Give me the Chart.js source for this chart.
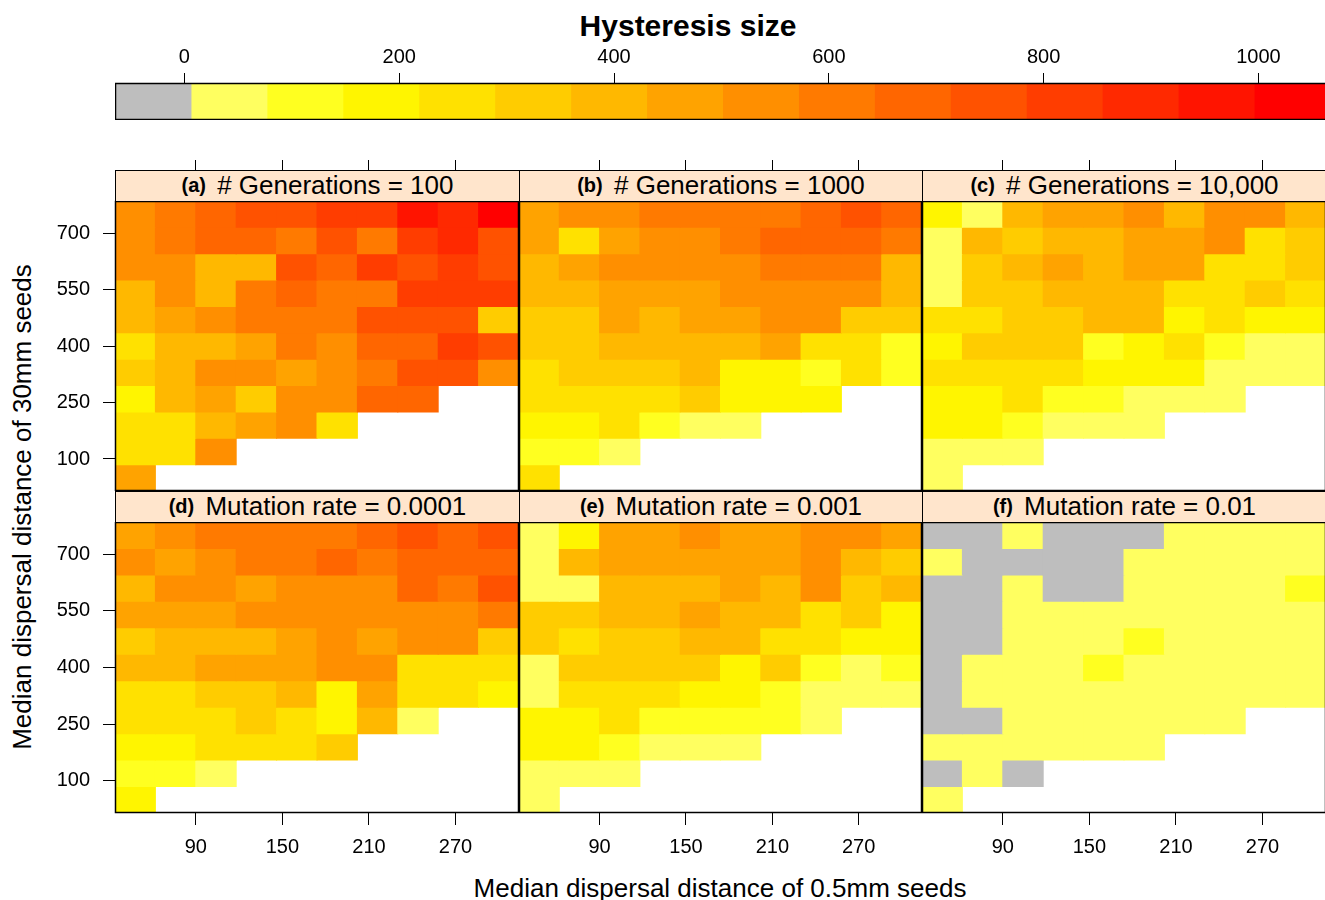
<!DOCTYPE html>
<html lang="en">
<head>
<meta charset="utf-8">
<title>Hysteresis size</title>
<script src="https://cdn.jsdelivr.net/npm/chart.js@4.4.1/dist/chart.umd.min.js"></script>
<style>
  html, body { margin: 0; padding: 0; background: #fff; }
  body { position: relative; width: 1325px; height: 900px; overflow: hidden;
         font-family: "Liberation Sans", Arial, sans-serif; color: #000; }
  canvas { position: absolute; }
  .strip { position: absolute; box-sizing: border-box; background: #ffe5cc;
           border: 1.5px solid #000; text-align: center; font-size: 26px;
           line-height: 29px; white-space: nowrap; }
  .strip b { font-size: 20px; vertical-align: 2px; margin-right: 4px; }
  #title { position: absolute; left: 438px; width: 500px; top: 9px; text-align: center;
           font-weight: bold; font-size: 30px; line-height: 34px; }
  #xtitle { position: absolute; left: 320px; width: 800px; top: 873px; text-align: center;
            font-size: 26px; line-height: 30px; }
  #ytitle { position: absolute; left: -278px; top: 492px; width: 600px; text-align: center;
            font-size: 26px; line-height: 30px; transform: rotate(-90deg); }
</style>
</head>
<body>
<div id="title">Hysteresis size</div>
<div id="xtitle">Median dispersal distance of 0.5mm seeds</div>
<div id="ytitle">Median dispersal distance of 30mm seeds</div>
<script>
// cell centres
const seedSmall = [48, 76, 104, 132, 160, 188, 216, 244, 272, 300];
const seedLarge = [750, 680, 610, 540, 470, 400, 330, 260, 190, 120, 50]; // top row first
const xTicks = [90, 150, 210, 270];
const yTicks = [100, 250, 400, 550, 700];

// colour key
const keyTicks = [0, 200, 400, 600, 800, 1000];
const keyBreaks = [-64.6, 6.1, 76.8, 147.5, 218.2, 288.9, 359.6, 430.3, 501.0,
                   571.7, 642.4, 713.1, 783.8, 854.5, 925.2, 995.9, 1066.6];
const keyColours = ['#bebebe', '#ffff60', '#ffff20', '#fff500', '#ffe100', '#ffcc00',
                    '#ffb800', '#ffa300', '#ff8f00', '#ff7a00', '#ff6600', '#ff5200',
                    '#ff3d00', '#ff2900', '#ff1400', '#ff0000'];

// hysteresis size, rows top (750) to bottom (50), columns left to right
const gen100 = [
  [535, 605, 680, 750, 750, 820, 820, 960, 890, 1030],
  [535, 605, 680, 680, 605, 750, 605, 820, 890, 750],
  [535, 535, 395, 395, 750, 680, 820, 750, 820, 750],
  [395, 535, 395, 605, 680, 605, 605, 820, 820, 820],
  [395, 465, 535, 605, 605, 605, 750, 750, 750, 320],
  [250, 395, 395, 465, 605, 535, 680, 680, 820, 750],
  [320, 395, 535, 535, 465, 535, 605, 750, 750, 535],
  [180, 395, 465, 320, 535, 535, 680, 680, null, null],
  [250, 250, 395, 465, 535, 250, null, null, null, null],
  [250, 250, 535, null, null, null, null, null, null, null],
  [465, null, null, null, null, null, null, null, null, null]
];
const gen1000 = [
  [465, 535, 535, 605, 605, 605, 605, 680, 750, 680],
  [465, 250, 465, 535, 535, 605, 680, 680, 680, 605],
  [395, 465, 535, 535, 535, 535, 605, 605, 605, 395],
  [395, 395, 465, 465, 465, 535, 535, 535, 535, 395],
  [320, 320, 465, 395, 465, 465, 535, 535, 320, 320],
  [320, 320, 395, 395, 395, 395, 465, 250, 250, 110],
  [250, 320, 320, 320, 395, 180, 180, 110, 250, 110],
  [250, 250, 250, 250, 320, 180, 180, 180, null, null],
  [180, 180, 250, 110, 40, 40, null, null, null, null],
  [110, 110, 40, null, null, null, null, null, null, null],
  [250, null, null, null, null, null, null, null, null, null]
];
const gen10000 = [
  [180, 40, 395, 465, 465, 535, 395, 535, 535, 395],
  [40, 395, 320, 395, 395, 465, 465, 535, 250, 320],
  [40, 320, 395, 465, 395, 465, 465, 250, 250, 320],
  [40, 320, 320, 395, 395, 395, 250, 250, 320, 250],
  [250, 250, 320, 320, 395, 395, 180, 250, 180, 180],
  [180, 320, 320, 320, 110, 180, 250, 110, 40, 40],
  [250, 250, 250, 250, 180, 180, 180, 40, 40, 40],
  [180, 180, 250, 110, 110, 40, 40, 40, null, null],
  [180, 180, 110, 40, 40, 40, null, null, null, null],
  [40, 40, 40, null, null, null, null, null, null, null],
  [40, null, null, null, null, null, null, null, null, null]
];
const mut0001 = [
  [465, 535, 605, 605, 605, 605, 680, 750, 680, 750],
  [535, 465, 535, 605, 605, 680, 605, 680, 680, 680],
  [395, 535, 535, 465, 535, 535, 535, 680, 605, 750],
  [465, 465, 465, 535, 535, 535, 535, 535, 535, 605],
  [320, 395, 395, 395, 465, 535, 465, 535, 535, 320],
  [395, 395, 465, 465, 465, 535, 535, 250, 250, 250],
  [250, 250, 320, 320, 395, 180, 465, 250, 250, 180],
  [250, 250, 250, 320, 250, 180, 395, 40, null, null],
  [180, 180, 250, 250, 250, 320, null, null, null, null],
  [110, 110, 40, null, null, null, null, null, null, null],
  [180, null, null, null, null, null, null, null, null, null]
];
const mut001 = [
  [40, 180, 465, 465, 535, 465, 465, 535, 535, 465],
  [40, 395, 465, 465, 465, 465, 465, 535, 395, 320],
  [40, 40, 395, 395, 395, 465, 395, 535, 320, 395],
  [320, 320, 395, 395, 465, 395, 395, 250, 320, 180],
  [320, 250, 320, 320, 395, 395, 250, 250, 180, 180],
  [40, 320, 320, 320, 320, 180, 320, 110, 40, 110],
  [40, 250, 250, 250, 180, 180, 110, 40, 40, 40],
  [180, 180, 250, 110, 110, 110, 110, 40, null, null],
  [180, 180, 110, 40, 40, 40, null, null, null, null],
  [40, 40, 40, null, null, null, null, null, null, null],
  [40, null, null, null, null, null, null, null, null, null]
];
const mut01 = [
  [0, 0, 40, 0, 0, 0, 40, 40, 40, 40],
  [40, 0, 0, 0, 0, 40, 40, 40, 40, 40],
  [0, 0, 40, 0, 0, 40, 40, 40, 40, 110],
  [0, 0, 40, 40, 40, 40, 40, 40, 40, 40],
  [0, 0, 40, 40, 40, 110, 40, 40, 40, 40],
  [0, 40, 40, 40, 110, 40, 40, 40, 40, 40],
  [0, 40, 40, 40, 40, 40, 40, 40, 40, 40],
  [0, 0, 40, 40, 40, 40, 40, 40, null, null],
  [40, 40, 40, 40, 40, 40, null, null, null, null],
  [0, 40, 0, null, null, null, null, null, null, null],
  [40, null, null, null, null, null, null, null, null, null]
];

const panels = [
  { tag: '(a)', label: '# Generations = 100', values: gen100, col: 0, row: 0 },
  { tag: '(b)', label: '# Generations = 1000', values: gen1000, col: 1, row: 0 },
  { tag: '(c)', label: '# Generations = 10,000', values: gen10000, col: 2, row: 0 },
  { tag: '(d)', label: 'Mutation rate = 0.0001', values: mut0001, col: 0, row: 1 },
  { tag: '(e)', label: 'Mutation rate = 0.001', values: mut001, col: 1, row: 1 },
  { tag: '(f)', label: 'Mutation rate = 0.01', values: mut01, col: 2, row: 1 }
];

// page layout
const colLeft = [115, 519, 922];
const colWidth = [404, 403, 404];
const rowTop = [201, 522];
const plotHeight = [290, 291];
const stripH = 31;

Chart.defaults.font.family = '"Liberation Sans", Arial, sans-serif';
Chart.defaults.color = '#000';
Chart.defaults.animation = false;
Chart.defaults.plugins.legend.display = false;
Chart.defaults.plugins.tooltip.enabled = false;

const frame = {
  id: 'frame',
  afterDraw(chart) {
    const { ctx, chartArea: a } = chart;
    ctx.save();
    ctx.strokeStyle = '#000';
    ctx.lineWidth = 1.5;
    ctx.strokeRect(a.left + 0.5, a.top + 0.5, a.right - a.left - 1, a.bottom - a.top - 1);
    ctx.restore();
  }
};

function addCanvas(left, top, w, h) {
  const c = document.createElement('canvas');
  c.width = w;
  c.height = h;
  c.style.left = left + 'px';
  c.style.top = top + 'px';
  c.style.width = w + 'px';
  c.style.height = h + 'px';
  document.body.appendChild(c);
  return c;
}

function colourFor(v) {
  for (let k = 0; k < keyColours.length; k++) {
    if (v < keyBreaks[k + 1]) return keyColours[k];
  }
  return keyColours[keyColours.length - 1];
}

const fixedTicks = list => s => { s.ticks = list.map(v => ({ value: v })); };
const fixHeight = px => s => { if (s.options.display) s.height = px; };
// y axis: fixed width, and no extra chart padding for the end labels
const fixWidth = px => s => {
  if (s.options.display) s.width = px;
  s.paddingTop = 0;
  s.paddingBottom = 0;
};
const plain = v => String(v);

// colour key
new Chart(addCanvas(115, 30, 1215, 90), {
  type: 'bar',
  data: {
    labels: ['key'],
    datasets: keyColours.map((c, k) => ({
      data: [[keyBreaks[k], keyBreaks[k + 1]]],
      backgroundColor: c
    }))
  },
  options: {
    responsive: false,
    indexAxis: 'y',
    datasets: { bar: { grouped: false, barPercentage: 1, categoryPercentage: 1, borderWidth: 0, inflateAmount: 0.5 } },
    scales: {
      y: { display: false },
      x: {
        position: 'top',
        offset: false,
        min: keyBreaks[0],
        max: keyBreaks[keyBreaks.length - 1],
        afterBuildTicks: fixedTicks(keyTicks),
        afterFit: fixHeight(53),
        grid: { offset: false, drawOnChartArea: false, tickLength: 10, tickColor: '#000', lineWidth: 1 },
        border: { display: false },
        ticks: { padding: 4, font: { size: 20 }, callback: plain, maxRotation: 0, autoSkip: false }
      }
    }
  },
  plugins: [frame]
});

// panels
const halfRow = (seedLarge[0] - seedLarge[1]) / 2;
const halfCol = (seedSmall[1] - seedSmall[0]) / 2;
const xMin = seedSmall[0] - halfCol, xMax = seedSmall[seedSmall.length - 1] + halfCol;
const yMin = seedLarge[seedLarge.length - 1] - halfRow, yMax = seedLarge[0] + halfRow;

panels.forEach(p => {
  const left = p.col === 0 ? 115 : 0;
  const top = p.row === 0 ? stripH + 10 : 0;
  const bottom = p.row === 1 ? 50 : 0;
  const canvas = addCanvas(colLeft[p.col] - left, rowTop[p.row] - top,
                           colWidth[p.col] + left, plotHeight[p.row] + top + bottom);

  const datasets = p.values.map((row, r) => ({
    xAxisID: 'x',
    yAxisID: 'y',
    data: row.map(v => v === null ? null : [seedLarge[r] - halfRow, seedLarge[r] + halfRow]),
    backgroundColor: row.map(v => v === null ? 'rgba(0,0,0,0)' : colourFor(v))
  }));

  new Chart(canvas, {
    type: 'bar',
    data: { labels: seedSmall.map(String), datasets },
    options: {
      responsive: false,
      datasets: { bar: { grouped: false, barPercentage: 1, categoryPercentage: 1, borderWidth: 0, inflateAmount: 0.5 } },
      scales: {
        x: { type: 'category', display: false, offset: true },
        y: {
          type: 'linear', position: 'left', display: p.col === 0,
          min: yMin, max: yMax,
          afterBuildTicks: fixedTicks(yTicks),
          afterFit: fixWidth(115),
          grid: { drawOnChartArea: false, tickLength: 12, tickColor: '#000', lineWidth: 1 },
          border: { display: false },
          ticks: { padding: 13, font: { size: 20 }, callback: plain, autoSkip: false }
        },
        xb: {
          type: 'linear', position: 'bottom', display: p.row === 1, offset: false,
          min: xMin, max: xMax,
          afterBuildTicks: fixedTicks(xTicks),
          afterFit: fixHeight(50),
          grid: { offset: false, drawOnChartArea: false, tickLength: 12, tickColor: '#000', lineWidth: 1 },
          border: { display: false },
          ticks: { padding: 10, font: { size: 20 }, callback: plain, maxRotation: 0, autoSkip: false }
        },
        gap: {
          type: 'linear', position: 'top', display: p.row === 0, weight: 0, offset: false,
          afterFit: fixHeight(stripH),
          grid: { display: false, offset: false },
          border: { display: false },
          ticks: { display: false }
        },
        xt: {
          type: 'linear', position: 'top', display: p.row === 0, weight: 1, offset: false,
          min: xMin, max: xMax,
          afterBuildTicks: fixedTicks(xTicks),
          afterFit: fixHeight(10),
          grid: { offset: false, drawOnChartArea: false, tickLength: 10, tickColor: '#000', lineWidth: 1 },
          border: { display: false },
          ticks: { display: false }
        }
      }
    },
    plugins: [frame]
  });

  const strip = document.createElement('div');
  strip.className = 'strip';
  strip.style.left = colLeft[p.col] + 'px';
  strip.style.top = (rowTop[p.row] - stripH) + 'px';
  strip.style.width = (colWidth[p.col] + 1) + 'px';
  strip.style.height = (stripH + 1) + 'px';
  strip.innerHTML = '<b>' + p.tag + '</b> ' + p.label;
  document.body.appendChild(strip);
});
</script>
</body>
</html>
